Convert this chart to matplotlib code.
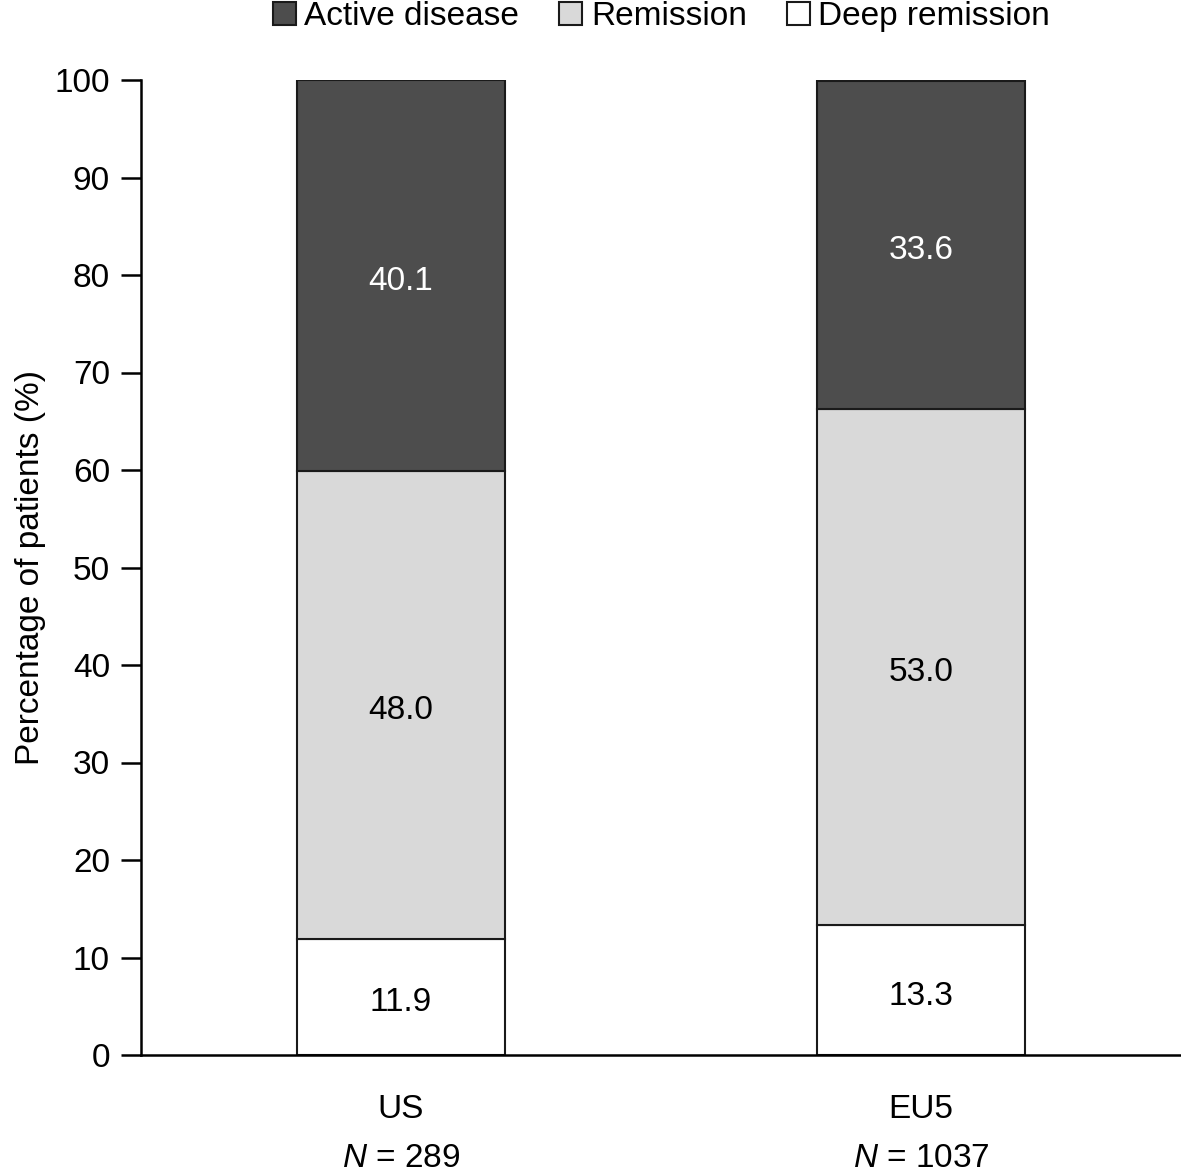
import matplotlib.pyplot as plt
import numpy as np

plt.rcParams['font.family'] = ['Liberation Sans', 'DejaVu Sans']
plt.rcParams['mathtext.fontset'] = 'custom'
plt.rcParams['mathtext.it'] = 'Liberation Sans:italic'
plt.rcParams['mathtext.rm'] = 'Liberation Sans'

regions = ['US', 'EU5']
sample_sizes = [289, 1037]
deep_remission = [11.9, 13.3]
remission = [48.0, 53.0]
active_disease = [40.1, 33.6]

FS = 24

fig = plt.figure(figsize=(11.81, 11.73), dpi=100)
ax = fig.add_axes([141 / 1181, 1 - 1055 / 1173, 1040 / 1181, 975 / 1173])

x = np.arange(len(regions))
w = 0.4
deep = np.array(deep_remission)
rem = np.array(remission)
act = np.array(active_disease)

b1 = ax.bar(x, deep, w, color='white', edgecolor='#1a1a1a', linewidth=1.5,
            label='Deep remission')
b2 = ax.bar(x, rem, w, bottom=deep, color='#d9d9d9', edgecolor='#1a1a1a',
            linewidth=1.5, label='Remission')
b3 = ax.bar(x, act, w, bottom=deep + rem, color='#4d4d4d', edgecolor='#1a1a1a',
            linewidth=1.5, label='Active disease')

# value labels in the middle of each segment
for bars, vals, bottoms, col in [(b1, deep, np.zeros(2), 'black'),
                                 (b2, rem, deep, 'black'),
                                 (b3, act, deep + rem, 'white')]:
    for xi, v, b in zip(x, vals, bottoms):
        ax.text(xi, b + v / 2 - 0.6, f'{v:.1f}', ha='center', va='center',
                fontsize=FS, color=col)

ax.set_xlim(-0.5, 1.5)
ax.set_ylim(0, 100)
ax.set_yticks(np.arange(0, 101, 10))
ax.set_xticks(x)
ax.set_xticklabels([f'{r}\n$N$ = {n}' for r, n in zip(regions, sample_sizes)],
                   linespacing=1.75)
ax.tick_params(axis='y', direction='out', length=14.4, width=1.8, pad=8,
               labelsize=FS)
ax.tick_params(axis='x', length=0, pad=28, labelsize=FS)
for s in ['top', 'right']:
    ax.spines[s].set_visible(False)
for s in ['left', 'bottom']:
    ax.spines[s].set_linewidth(1.8)

ax.set_ylabel('Percentage of patients (%)', fontsize=FS, labelpad=6)

fig.legend(handles=[b3, b2, b1], loc='upper center', bbox_to_anchor=(0.56, 1.013),
           ncol=3, frameon=False, fontsize=FS, handlelength=0.7,
           handleheight=0.7, handletextpad=0.25, columnspacing=1.2,
           borderpad=0)

fig.savefig('out.png', dpi=100)
